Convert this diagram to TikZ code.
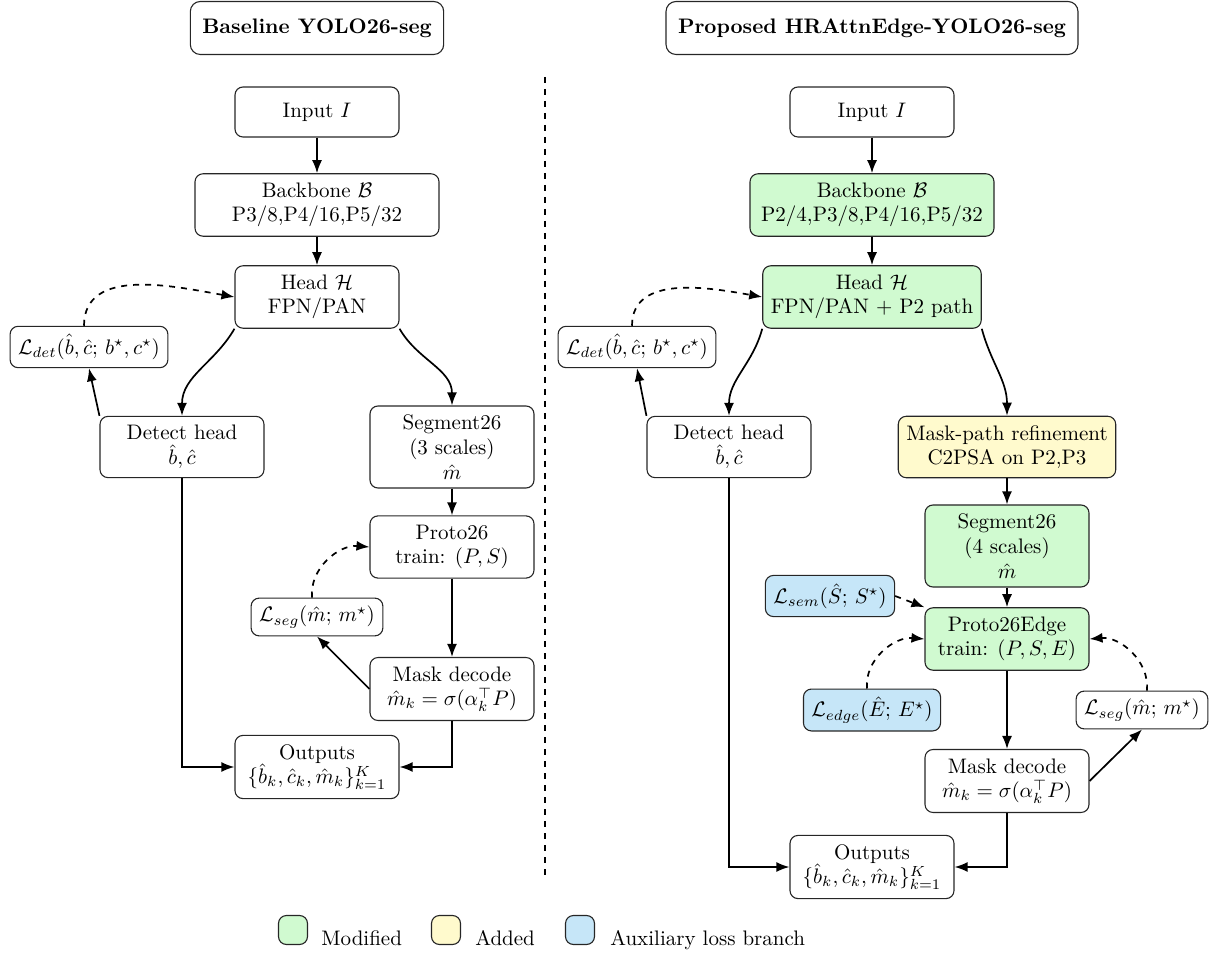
\RequirePackage{fix-cm}
\documentclass[tikz,border=0pt]{standalone}
\usetikzlibrary{arrows.meta}
\definecolor{modgreen}{RGB}{208,250,208}
\definecolor{addyellow}{RGB}{255,250,205}
\definecolor{auxblue}{RGB}{198,230,248}
\begin{document}
\fontsize{10.5}{12.3}\selectfont
\begin{tikzpicture}[x=0.5pt,y=0.5pt,
  box/.style={draw=black!85,rounded corners=4pt,align=center,minimum width=82pt,minimum height=25pt,inner xsep=4pt,inner ysep=4.5pt,line width=0.55pt},
  wide/.style={minimum width=122pt},
  loss/.style={draw=black!85,rounded corners=4pt,align=center,inner sep=4pt,line width=0.55pt},
  ttl/.style={draw=black!85,rounded corners=5pt,font=\bfseries,minimum height=26.5pt,inner xsep=6pt,line width=0.55pt},
  mod/.style={fill=modgreen}, add/.style={fill=addyellow}, aux/.style={fill=auxblue},
  arr/.style={line width=0.85pt,-{Latex[length=6.5pt,width=5pt]}},
  darr/.style={arr,dashed},
  swatch/.style={draw=black!85,rounded corners=4pt,minimum size=14.5pt,inner sep=0pt,line width=0.55pt},
  lgtext/.style={anchor=base west,inner sep=0pt},
]
\useasboundingbox (0,0) rectangle (1220,-956);

% ---------- Left: baseline ----------
\node[ttl] (tL) at (317,-28) {Baseline YOLO26-seg};
\node[box] (inL) at (317,-112) {Input $I$};
\node[box,wide] (bbL) at (317,-205) {Backbone $\mathcal{B}$\\P3/8,P4/16,P5/32};
\node[box] (hdL) at (317,-297) {Head $\mathcal{H}$\\FPN/PAN};
\node[loss] (ldetL) at (89,-347) {$\mathcal{L}_{det}(\hat{b},\hat{c};\,b^{\star},c^{\star})$};
\node[box] (detL) at (182,-447) {Detect head\\$\hat{b},\hat{c}$};
\node[box] (segL) at (452,-447) {Segment26\\(3 scales)\\$\hat{m}$};
\node[box] (proL) at (452,-547) {Proto26\\train: $(P,S)$};
\node[loss] (lsegL) at (317,-617) {$\mathcal{L}_{seg}(\hat{m};\,m^{\star})$};
\node[box] (mdL) at (452,-689) {Mask decode\\$\hat{m}_k=\sigma(\alpha_k^{\top}P)$};
\node[box] (outL) at (317,-767) {Outputs\\$\{\hat{b}_k,\hat{c}_k,\hat{m}_k\}_{k=1}^{K}$};

\draw[arr] (inL) -- (bbL);
\draw[arr] (bbL) -- (hdL);
\draw[arr] (hdL.south west) to[out=-120,in=90] (detL.north);
\draw[arr] (hdL.south east) to[out=-60,in=90] (segL.north);
\draw[arr] (detL.north west) -- (ldetL.south);
\draw[darr] ([xshift=-2.5pt]ldetL.north) to[out=90,in=170] (hdL.west);
\draw[arr] (segL) -- (proL);
\draw[arr] (proL) -- (mdL);
\draw[arr] (mdL.west) -- (lsegL.south);
\draw[darr] ([xshift=-2.5pt]lsegL.north) to[out=95,in=175] (proL.west);
\draw[arr] (detL.south) |- (outL.west);
\draw[arr] (mdL.south) |- (outL.east);

% ---------- divider ----------
\coordinate (dtop) at (545,-77);
\coordinate (dbot) at (545,-878);
\draw[dashed,line width=0.6pt] (dtop) -- (dbot);

% ---------- Right: proposed ----------
\node[ttl] (tR) at (872,-28) {Proposed HRAttnEdge-YOLO26-seg};
\node[box] (inR) at (872,-112) {Input $I$};
\node[box,wide,mod] (bbR) at (872,-205) {Backbone $\mathcal{B}$\\P2/4,P3/8,P4/16,P5/32};
\node[box,mod] (hdR) at (872,-297) {Head $\mathcal{H}$\\FPN/PAN + P2 path};
\node[loss] (ldetR) at (637,-347) {$\mathcal{L}_{det}(\hat{b},\hat{c};\,b^{\star},c^{\star})$};
\node[box] (detR) at (729,-447) {Detect head\\$\hat{b},\hat{c}$};
\node[box,add] (mpR) at (1007,-447) {Mask-path refinement\\C2PSA on P2,P3};
\node[box,mod] (segR) at (1007,-546) {Segment26\\(4 scales)\\$\hat{m}$};
\node[loss,aux] (lsemR) at (830,-596) {$\mathcal{L}_{sem}(\hat{S};\,S^{\star})$};
\node[box,mod] (proR) at (1007,-639) {Proto26Edge\\train: $(P,S,E)$};
\node[loss,aux] (ledgeR) at (872,-710) {$\mathcal{L}_{edge}(\hat{E};\,E^{\star})$};
\node[loss] (lsegR) at (1142,-710) {$\mathcal{L}_{seg}(\hat{m};\,m^{\star})$};
\node[box] (mdR) at (1007,-781) {Mask decode\\$\hat{m}_k=\sigma(\alpha_k^{\top}P)$};
\node[box] (outR) at (872,-867) {Outputs\\$\{\hat{b}_k,\hat{c}_k,\hat{m}_k\}_{k=1}^{K}$};

\draw[arr] (inR) -- (bbR);
\draw[arr] (bbR) -- (hdR);
\draw[arr] (hdR.south west) to[out=-105,in=90] (detR.north);
\draw[arr] (hdR.south east) to[out=-75,in=90] (mpR.north);
\draw[arr] (detR.north west) -- (ldetR.south);
\draw[darr] ([xshift=-2.5pt]ldetR.north) to[out=90,in=170] (hdR.west);
\draw[arr] (mpR) -- (segR);
\draw[arr] (segR) -- (proR);
\draw[arr] (proR) -- (mdR);
\draw[darr] (lsemR.east) -- (proR.north west);
\draw[darr] ([xshift=-2.5pt]ledgeR.north) to[out=95,in=175] (proR.west);
\draw[arr] (mdR.east) -- (lsegR.south);
\draw[darr] ([xshift=2.5pt]lsegR.north) to[out=85,in=5] (proR.east);
\draw[arr] (detR.south) |- (outR.west);
\draw[arr] (mdR.south) |- (outR.east);

% ---------- legend ----------
\node[swatch,mod] (sw1) at (293,-930) {};
\node[lgtext] (lg1) at (321,-945) {Modified};
\node[swatch,add] (sw2) at (446,-930) {};
\node[lgtext] (lg2) at (475,-945) {Added};
\node[swatch,aux] (sw3) at (580,-930) {};
\node[lgtext] (lg3) at (610,-945) {Auxiliary loss branch};
\end{tikzpicture}
\end{document}
